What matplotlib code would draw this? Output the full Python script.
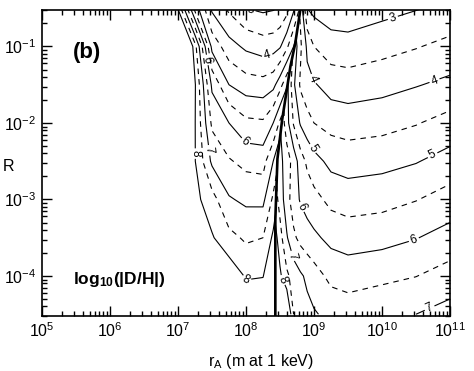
import numpy as np
import matplotlib
matplotlib.use("Agg")
import matplotlib.pyplot as plt
from matplotlib.patches import Polygon

plt.rcParams['font.family'] = ['Liberation Sans', 'DejaVu Sans']
plt.rcParams['mathtext.fontset'] = 'custom'
plt.rcParams['mathtext.rm'] = 'Liberation Sans'
plt.rcParams['mathtext.it'] = 'Liberation Sans:italic'
plt.rcParams['mathtext.bf'] = 'Liberation Sans:bold'
plt.rcParams['lines.dashed_pattern'] = [5.0, 4.5]

#-----------------------------------------------------
#-------- DATA ---------------------------------------

# rows of the grid : log10(R)
log_R = [-4.5, -4.0, -3.5, -3.0, -2.5, -2.0, -1.5, -1.0, -0.5]

# left of the thick curve : log10(r_A) columns and log10|D/H| values
log_rA_left = [5.0, 6.9, 7.0, 7.25, 7.5, 7.75, 8.0, 8.25, 8.4, 8.5, 8.6, 8.7, 8.8, 8.9]
dh_left = [
    [-12, -12, -12, -12, -10.0, -9.0, -8.45, -8.5, -9.5, -10, -10.5, -11, -11, -11],
    [-12, -12, -12, -11, -9.2, -8.35, -7.95, -7.98, -8.5, -9.0, -9.5, -10, -10, -10],
    [-12, -12, -12, -9.5, -8.05, -7.65, -7.42, -7.5, -8.1, -8.6, -9.1, -9.6, -10, -10],
    [-12, -12, -12, -8.15, -7.7, -7.05, -6.9, -6.88, -7.6, -8.2, -8.8, -9.4, -10, -10],
    [-12, -12, -12, -8.02, -6.9, -6.55, -6.35, -6.3, -7.0, -7.6, -8.2, -8.8, -9.4, -10],
    [-12, -12, -12, -8.02, -6.4, -6.0, -5.62, -5.58, -6.0, -6.6, -7.2, -7.8, -8.4, -9],
    [-12, -12, -12, -8.05, -5.9, -5.0, -4.75, -4.7, -4.85, -5.3, -5.9, -6.5, -7.1, -7.7],
    [-12, -12, -10, -7.7, -4.85, -4.2, -3.9, -3.75, -3.8, -3.95, -4.4, -5.0, -5.6, -6.2],
    [-12, -9.5, -7.95, -5.3, -3.9, -3.4, -3.0, -2.9, -2.95, -3.05, -3.3, -3.9, -4.6, -5.2],
]

# right of the thick curve
log_rA_right = [8.3, 8.4, 8.5, 8.6, 8.7, 8.8, 8.9, 9.0, 9.25, 9.5, 10.0, 10.5, 11.0]
dh_right = [
    [-11, -10.5, -10.0, -8.75, -7.5, -7.3, -7.15, -7.05, -6.86, -6.78, -6.9, -7.0, -7.2],
    [-9.5, -8.8, -8.1, -7.6, -7.3, -7.08, -6.9, -6.72, -6.36, -6.28, -6.38, -6.49, -6.7],
    [-9.1, -8.4, -7.7, -7.05, -6.6, -6.35, -6.2, -6.1, -5.86, -5.77, -5.83, -5.98, -6.2],
    [-8.5, -7.9, -7.3, -6.7, -6.25, -5.95, -5.8, -5.66, -5.36, -5.27, -5.33, -5.48, -5.7],
    [-8.0, -7.6, -7.15, -6.75, -6.3, -5.75, -5.4, -5.18, -4.86, -4.78, -4.84, -4.97, -5.2],
    [-8.2, -7.6, -7.0, -6.2, -5.45, -4.95, -4.7, -4.5, -4.33, -4.27, -4.33, -4.47, -4.68],
    [-7.6, -7.2, -6.8, -6.2, -5.1, -4.42, -4.15, -4.05, -3.79, -3.74, -3.83, -3.97, -4.12],
    [-6.5, -6.5, -6.5, -6.5, -5.4, -4.6, -3.9, -3.5, -3.24, -3.2, -3.33, -3.47, -3.64],
    [-5.5, -5.5, -5.5, -5.5, -5.0, -4.4, -3.0, -2.85, -2.69, -2.67, -2.83, -2.97, -3.13],
]

# thick curve (sign change of D/H)
boundary_rA = [2.7e8, 2.7e8, 2.9e8, 3.4e8, 4.5e8, 5.3e8, 6.6e8]
boundary_R = [2.0e-5, 5.5e-4, 3.4e-3, 1.1e-2, 5.5e-2, 1.1e-1, 0.4]

levels_solid = [-8, -7, -6, -5, -4, -3]
levels_dashed = [-7.5, -6.5, -5.5, -4.5, -3.5]

#-----------------------------------------------------
#-------- FIGURE -------------------------------------

fig = plt.figure(figsize=(4.74, 3.71), dpi=100)
ax = fig.add_axes([42/474, 55/371, 408/474, 306/371])

bu = np.log10(boundary_rA)
bv = np.log10(boundary_R)
left_patch = Polygon([(4, bv[0])] + list(zip(bu, bv)) + [(4, bv[-1])],
                     closed=True, transform=ax.transData)
right_patch = Polygon([(12, bv[0])] + list(zip(bu, bv)) + [(12, bv[-1])],
                      closed=True, transform=ax.transData)

lab = lambda v: f"{-v:.0f}"

cl = ax.contour(log_rA_left, log_R, dh_left, levels=levels_solid,
                colors='k', linewidths=0.8, linestyles='solid')
cld = ax.contour(log_rA_left, log_R, dh_left, levels=levels_dashed,
                 colors='k', linewidths=0.8, linestyles='dashed')
cr = ax.contour(log_rA_right, log_R, dh_right, levels=levels_solid,
                colors='k', linewidths=0.8, linestyles='solid')
crd = ax.contour(log_rA_right, log_R, dh_right, levels=levels_dashed,
                 colors='k', linewidths=0.8, linestyles='dashed')

# labels on the solid contours (digits only, as in the original)
ax.clabel(cl, fmt=lab, fontsize=8.5, inline=True, inline_spacing=2,
          manual=[(8.05, -0.57), (8.3, -1.08), (7.47, -1.17), (7.96, -2.27),
                  (7.43, -2.36), (7.25, -2.4), (7.99, -4.09)])
ax.clabel(cr, fmt=lab, fontsize=8.5, inline=True, inline_spacing=2,
          manual=[(10.15, -0.6), (10.75, -1.39), (8.97, -1.43), (10.71, -2.36),
                  (8.97, -2.34), (10.46, -3.5), (8.84, -3.09), (10.68, -4.38),
                  (8.72, -3.73), (8.55, -4.05)])

for cs in (cl, cld):
    cs.set_clip_path(left_patch)
for cs in (cr, crd):
    cs.set_clip_path(right_patch)

ax.plot(bu, bv, color='k', lw=1.9)

ax.set_xlim(5, 11)
ax.set_ylim(np.log10(3e-5), np.log10(0.3))

# log style ticks
ax.set_xticks(range(5, 12))
ax.set_xticklabels([f"$10^{{{k}}}$" for k in range(5, 12)])
ax.set_xticks([n + np.log10(k) for n in range(5, 11) for k in range(2, 10)], minor=True)
ax.set_yticks(range(-4, 0))
ax.set_yticklabels([f"$10^{{{k}}}$" for k in range(-4, 0)])
ymin, ymax = ax.get_ylim()
ax.set_yticks([n + np.log10(k) for n in range(-5, 0) for k in range(2, 10)
               if ymin <= n + np.log10(k) <= ymax], minor=True)

ax.tick_params(which='both', direction='in', top=True, right=True, width=1)
ax.tick_params(which='major', length=7, labelsize=11.5, pad=4)
ax.tick_params(which='minor', length=3.5)
for s in ax.spines.values():
    s.set_linewidth(1.2)

ax.set_xlabel(r"r$_\mathrm{A}$ (m at 1 keV)", fontsize=11.5)
ax.xaxis.set_label_coords(0.537, -0.118)
ax.set_ylabel("R", fontsize=11.5, rotation=0, va='center')
ax.yaxis.set_label_coords(-0.081, 0.49)

ax.text(5.456, -1.08, "(b)", fontsize=16, fontweight='bold', va='center')
ax.text(5.456, -4.10, r"$\mathbf{log}_{\mathbf{10}}\mathbf{(|D/H|)}$",
        fontsize=12.5, va='baseline')

plt.savefig("out.png", dpi=100)
